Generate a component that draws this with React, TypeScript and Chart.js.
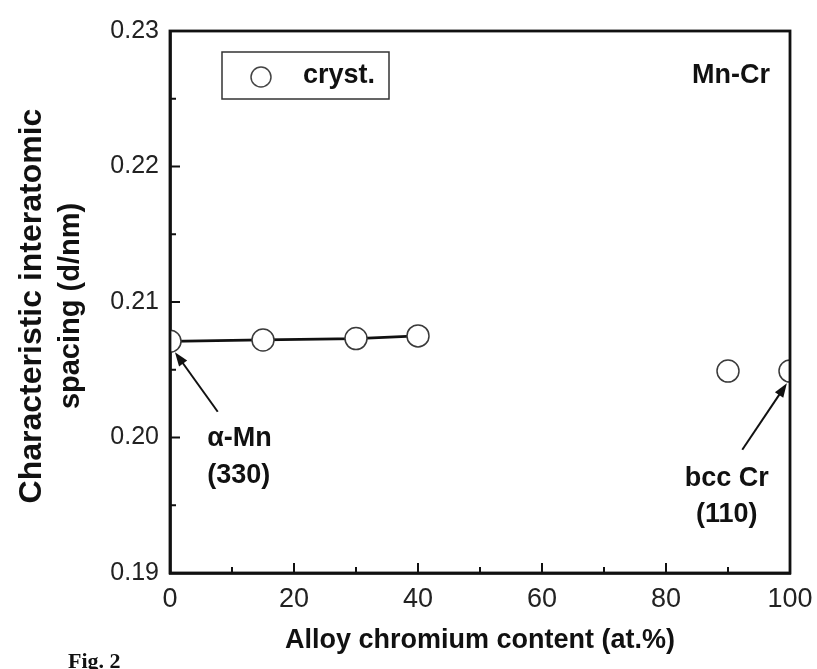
import { useEffect, useRef } from 'react';
import { Chart, registerables } from 'chart.js';

Chart.register(...registerables);

// Crystalline Mn-Cr alloys: interatomic spacing vs. chromium content
const crystX = [0, 15, 30, 40];
const crystY = [0.2071, 0.2072, 0.2073, 0.2075];
const crEndX = [90, 100];
const crEndY = [0.2049, 0.2049];

const xTicks = [0, 20, 40, 60, 80, 100];
const xMinorTicks = [10, 30, 50, 70, 90];
const yTicks = [0.19, 0.2, 0.21, 0.22, 0.23];
const yMinorTicks = [0.195, 0.205, 0.215, 0.225];

const xTitle = 'Alloy chromium content (at.%)';
const yTitle = ['Characteristic interatomic', 'spacing (d/nm)'];
const legendLabel = 'cryst.';
const systemLabel = 'Mn-Cr';
const figLabel = 'Fig. 2';

// Peak labels with arrows, positioned in data units
const peakNotes = [
  { lines: ['\u03b1-Mn', '(330)'], textX: 6.0, textY: [0.1999, 0.1972], align: 'left', tail: [7.7, 0.2019], tip: [0.8, 0.2063] },
  { lines: ['bcc Cr', '(110)'], textX: 89.8, textY: [0.1970, 0.1943], align: 'center', tail: [92.3, 0.1991], tip: [99.5, 0.2040] },
];

const SANS = '"Liberation Sans", Arial, Helvetica, sans-serif';

function arrow(ctx: CanvasRenderingContext2D, x1: number, y1: number, x2: number, y2: number) {
  const ang = Math.atan2(y2 - y1, x2 - x1);
  const head = 14;
  const half = 5;
  ctx.beginPath();
  ctx.moveTo(x1, y1);
  ctx.lineTo(x2 - Math.cos(ang) * head * 0.8, y2 - Math.sin(ang) * head * 0.8);
  ctx.stroke();
  ctx.beginPath();
  ctx.moveTo(x2, y2);
  ctx.lineTo(x2 - Math.cos(ang) * head - Math.sin(ang) * half, y2 - Math.sin(ang) * head + Math.cos(ang) * half);
  ctx.lineTo(x2 - Math.cos(ang) * head + Math.sin(ang) * half, y2 - Math.sin(ang) * head - Math.cos(ang) * half);
  ctx.closePath();
  ctx.fill();
}

const decorPlugin = {
  id: 'decor',
  afterDatasetsDraw(chart: any) {
    const { ctx, chartArea: a, scales } = chart;
    const x = scales.x;
    const y = scales.y;
    ctx.save();
    ctx.strokeStyle = '#111';
    ctx.fillStyle = '#111';
    ctx.lineCap = 'butt';

    // inward tick marks
    ctx.lineWidth = 2;
    const tick = (x1: number, y1: number, x2: number, y2: number) => {
      ctx.beginPath();
      ctx.moveTo(x1, y1);
      ctx.lineTo(x2, y2);
      ctx.stroke();
    };
    xTicks.forEach((v) => { const px = x.getPixelForValue(v); tick(px, a.bottom, px, a.bottom - 10); });
    xMinorTicks.forEach((v) => { const px = x.getPixelForValue(v); tick(px, a.bottom, px, a.bottom - 6); });
    yTicks.forEach((v) => { const py = y.getPixelForValue(v); tick(a.left, py, a.left + 10, py); });
    yMinorTicks.forEach((v) => { const py = y.getPixelForValue(v); tick(a.left, py, a.left + 6, py); });

    // frame
    ctx.lineWidth = 2.8;
    ctx.strokeRect(a.left, a.top, a.right - a.left, a.bottom - a.top);

    // legend box
    const lx = a.left + 52;
    const ly = a.top + 21;
    ctx.lineWidth = 1.5;
    ctx.strokeStyle = '#333';
    ctx.strokeRect(lx, ly, 167, 47);
    ctx.beginPath();
    ctx.arc(lx + 39, ly + 25, 10, 0, Math.PI * 2);
    ctx.fillStyle = '#fff';
    ctx.fill();
    ctx.strokeStyle = '#444';
    ctx.stroke();
    ctx.fillStyle = '#111';
    ctx.font = `bold 27px ${SANS}`;
    ctx.textBaseline = 'middle';
    ctx.textAlign = 'left';
    ctx.fillText(legendLabel, lx + 81, ly + 24);

    // system label
    ctx.textAlign = 'right';
    ctx.fillText(systemLabel, a.right - 20, a.top + 45);

    // peak annotations
    ctx.lineWidth = 2;
    ctx.strokeStyle = '#111';
    peakNotes.forEach((n) => {
      ctx.textAlign = n.align as CanvasTextAlign;
      n.lines.forEach((t, i) => {
        ctx.fillText(t, x.getPixelForValue(n.textX), y.getPixelForValue(n.textY[i]));
      });
      arrow(ctx, x.getPixelForValue(n.tail[0]), y.getPixelForValue(n.tail[1]), x.getPixelForValue(n.tip[0]), y.getPixelForValue(n.tip[1]));
    });

    // axis titles
    ctx.textAlign = 'center';
    ctx.font = `bold 27px ${SANS}`;
    ctx.fillText(xTitle, (a.left + a.right) / 2, 641);

    ctx.save();
    ctx.translate(52, (a.top + a.bottom) / 2 + 4);
    ctx.rotate(-Math.PI / 2);
    ctx.font = `bold 32px ${SANS}`;
    ctx.fillText(yTitle[0], 0, -20);
    ctx.font = `bold 29px ${SANS}`;
    ctx.fillText(yTitle[1], 0, 19);
    ctx.restore();

    // figure tag
    ctx.textAlign = 'left';
    ctx.textBaseline = 'alphabetic';
    ctx.font = 'bold 22px "Liberation Serif", "DejaVu Serif", serif';
    ctx.fillText(figLabel, 68, 668);
    ctx.restore();
  },
};

export default function App() {
  const ref = useRef<HTMLCanvasElement | null>(null);

  useEffect(() => {
    document.body.style.margin = '0';
    const canvas = ref.current;
    if (!canvas) return;
    const pointStyle = {
      pointRadius: 11,
      pointHoverRadius: 11,
      pointBackgroundColor: '#ffffff',
      pointBorderColor: '#3a3a3a',
      pointBorderWidth: 1.5,
    };
    const chart = new Chart(canvas, {
      type: 'line',
      data: {
        datasets: [
          {
            label: legendLabel,
            data: crystX.map((v, i) => ({ x: v, y: crystY[i] })),
            borderColor: '#111',
            borderWidth: 2.8,
            showLine: true,
            ...pointStyle,
          },
          {
            label: 'bcc',
            data: crEndX.map((v, i) => ({ x: v, y: crEndY[i] })),
            showLine: false,
            borderColor: '#111',
            ...pointStyle,
          },
        ],
      },
      options: {
        animation: false,
        responsive: false,
        devicePixelRatio: 1,
        layout: { padding: { top: 31, right: 27, left: 0, bottom: 0 } },
        plugins: { legend: { display: false }, tooltip: { enabled: false } },
        scales: {
          x: {
            type: 'linear',
            min: 0,
            max: 100,
            afterBuildTicks: (s: any) => { s.ticks = xTicks.map((v) => ({ value: v })); },
            afterFit: (s: any) => { s.height = 96; s.paddingLeft = 0; s.paddingRight = 0; },
            grid: { display: false, drawTicks: false },
            border: { display: true, color: '#111', width: 2.8 },
            ticks: {
              padding: 10,
              color: '#222',
              font: { family: SANS, size: 27 },
              maxRotation: 0,
              callback: (v: any) => String(v),
            },
          },
          y: {
            type: 'linear',
            min: 0.19,
            max: 0.23,
            afterBuildTicks: (s: any) => { s.ticks = yTicks.map((v) => ({ value: v })); },
            afterFit: (s: any) => { s.width = 170; s.paddingTop = 0; s.paddingBottom = 0; },
            grid: { display: false, drawTicks: false },
            border: { display: true, color: '#111', width: 2.8 },
            ticks: {
              padding: 11,
              color: '#222',
              font: { family: SANS, size: 25 },
              callback: (v: any) => Number(v).toFixed(2),
            },
          },
        },
      },
      plugins: [decorPlugin],
    });
    return () => chart.destroy();
  }, []);

  return (
    <div style={{ position: 'absolute', left: 0, top: 0, width: 817, height: 669, background: '#fff' }}>
      <canvas ref={ref} width={817} height={669} />
    </div>
  );
}
